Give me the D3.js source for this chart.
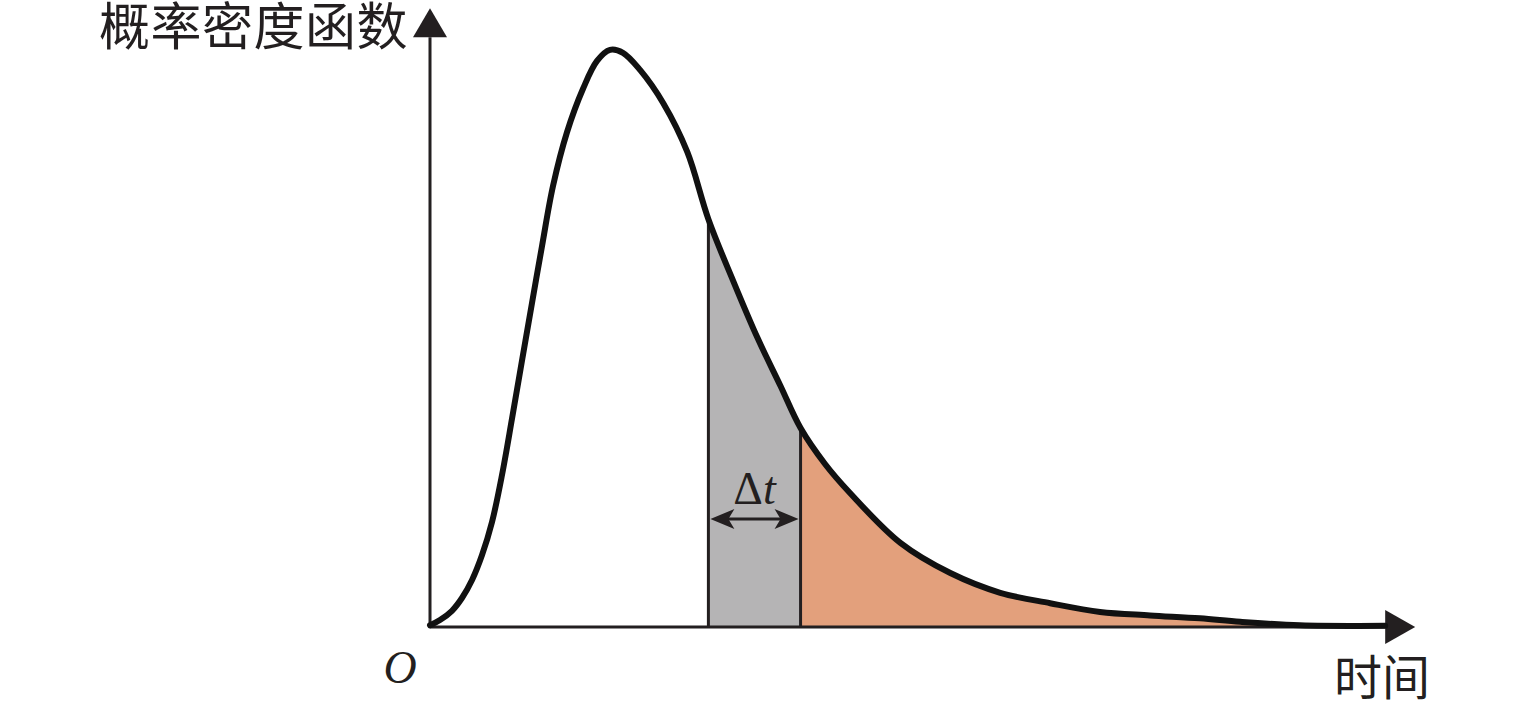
<!DOCTYPE html>
<html>
<head>
<meta charset="utf-8">
<script src="https://cdn.jsdelivr.net/npm/d3@7"></script>
<style>
  body { margin: 0; background: #fff; }
  svg { display: block; }
</style>
</head>
<body>
<svg id="chart"></svg>
<script>
// Curve (time units 0-100, density 0-100)
const times = [0, 1.04, 2.29, 3.33, 4.38, 5.42, 6.46, 7.5, 8.54, 9.58, 10.63, 11.67, 12.81, 14.27, 15.94, 17.4, 18.75,
    20.1, 21.9, 24.3, 26.8, 29, 31.6, 34.1, 36.5, 38.6, 41.15, 43.75, 49, 54.2, 59.4, 64.6, 69.8, 75, 80.2, 84.4, 90.6, 99.5];
const density = [0.3, 1.2, 2.8, 5.0, 8.1, 12.4, 18.1, 26.2, 35.9, 45.9, 55.9, 65.7, 76.0, 85.3, 92.8, 97.6, 99.5,
    99, 96, 90.3, 81.9, 70.3, 59.6, 49.9, 41.6, 34.3, 28.1, 23.1, 14.5, 9.3, 5.9, 4.1, 2.6, 2.0, 1.5, 0.9, 0.3, 0.2];
const intervalStart = 29;
const intervalEnd = 38.6;
const yLabel = '概率密度函数';
const xLabel = '时间';
const originLabel = 'O';

const width = 1535, height = 705;
const svg = d3.select('#chart').attr('width', width).attr('height', height);

const x = d3.scaleLinear().domain([0, 100]).range([430, 1390]);
const y = d3.scaleLinear().domain([0, 100]).range([627, 47]);

const data = times.map((t, i) => ({t: t, d: density[i]}));
const curve = d3.curveCatmullRom.alpha(0.5);

const area = d3.area()
    .x(p => x(p.t))
    .y0(y(0))
    .y1(p => y(p.d))
    .curve(curve);

const line = d3.line()
    .x(p => x(p.t))
    .y(p => y(p.d))
    .curve(curve);

// clip regions for the shaded bands
const defs = svg.append('defs');
defs.append('clipPath').attr('id', 'clip-gray')
    .append('rect')
    .attr('x', x(intervalStart)).attr('y', 0)
    .attr('width', x(intervalEnd) - x(intervalStart)).attr('height', height);
defs.append('clipPath').attr('id', 'clip-orange')
    .append('rect')
    .attr('x', x(intervalEnd)).attr('y', 0)
    .attr('width', width - x(intervalEnd)).attr('height', height);

svg.append('path')
    .datum(data)
    .attr('d', area)
    .attr('clip-path', 'url(#clip-gray)')
    .attr('fill', '#b5b4b5');

svg.append('path')
    .datum(data)
    .attr('d', area)
    .attr('clip-path', 'url(#clip-orange)')
    .attr('fill', '#e3a07c');

// vertical boundaries
[intervalStart, intervalEnd].forEach(t => {
    const p = data.find(q => q.t === t);
    svg.append('line')
        .attr('x1', x(t)).attr('x2', x(t))
        .attr('y1', y(0)).attr('y2', y(p.d))
        .attr('stroke', '#231f20')
        .attr('stroke-width', 3);
});

// axes
svg.append('line')
    .attr('x1', x(0)).attr('x2', x(99.5))
    .attr('y1', y(0)).attr('y2', y(0))
    .attr('stroke', '#231f20').attr('stroke-width', 3);
svg.append('path')
    .attr('d', `M${x(99.5)},${y(0) - 17}L${x(99.5) + 30},${y(0)}L${x(99.5)},${y(0) + 17}Z`)
    .attr('fill', '#231f20');

svg.append('line')
    .attr('x1', x(0)).attr('x2', x(0))
    .attr('y1', y(0)).attr('y2', y(101.7))
    .attr('stroke', '#231f20').attr('stroke-width', 3);
svg.append('path')
    .attr('d', `M${x(0) - 17},${y(101.7)}L${x(0)},${y(101.7) - 29}L${x(0) + 17},${y(101.7)}Z`)
    .attr('fill', '#231f20');

// density curve
svg.append('path')
    .datum(data)
    .attr('d', line)
    .attr('fill', 'none')
    .attr('stroke', '#111')
    .attr('stroke-width', 6)
    .attr('stroke-linejoin', 'round')
    .attr('stroke-linecap', 'round');

// delta t double arrow
const arrowY = 519;
const xa = x(intervalStart) + 2, xb = x(intervalEnd) - 2;
svg.append('line')
    .attr('x1', xa + 10).attr('x2', xb - 10)
    .attr('y1', arrowY).attr('y2', arrowY)
    .attr('stroke', '#231f20').attr('stroke-width', 3);
svg.append('path')
    .attr('d', `M${xa},${arrowY}L${xa + 24},${arrowY - 10}L${xa + 18},${arrowY}L${xa + 24},${arrowY + 10}Z`)
    .attr('fill', '#231f20');
svg.append('path')
    .attr('d', `M${xb},${arrowY}L${xb - 24},${arrowY - 10}L${xb - 18},${arrowY}L${xb - 24},${arrowY + 10}Z`)
    .attr('fill', '#231f20');

const dt = svg.append('text')
    .attr('x', (x(intervalStart) + x(intervalEnd)) / 2)
    .attr('y', 504)
    .attr('text-anchor', 'middle')
    .attr('font-family', '"Liberation Serif", "DejaVu Serif", serif')
    .attr('font-size', 46)
    .attr('fill', '#231f20');
dt.append('tspan').text('Δ');
dt.append('tspan').attr('font-style', 'italic').text('t');

// labels
svg.append('text')
    .attr('x', 99).attr('y', 45)
    .attr('font-family', '"Noto Sans CJK SC", sans-serif')
    .attr('font-size', 51)
    .attr('letter-spacing', 0.5)
    .attr('fill', '#231f20')
    .text(yLabel);

svg.append('text')
    .attr('x', 1334).attr('y', 695)
    .attr('font-family', '"Noto Sans CJK SC", sans-serif')
    .attr('font-size', 48)
    .attr('fill', '#231f20')
    .text(xLabel);

svg.append('text')
    .attr('x', 400).attr('y', 683)
    .attr('text-anchor', 'middle')
    .attr('font-family', '"Liberation Serif", serif')
    .attr('font-style', 'italic')
    .attr('font-size', 46)
    .attr('fill', '#231f20')
    .text(originLabel);
</script>
</body>
</html>
